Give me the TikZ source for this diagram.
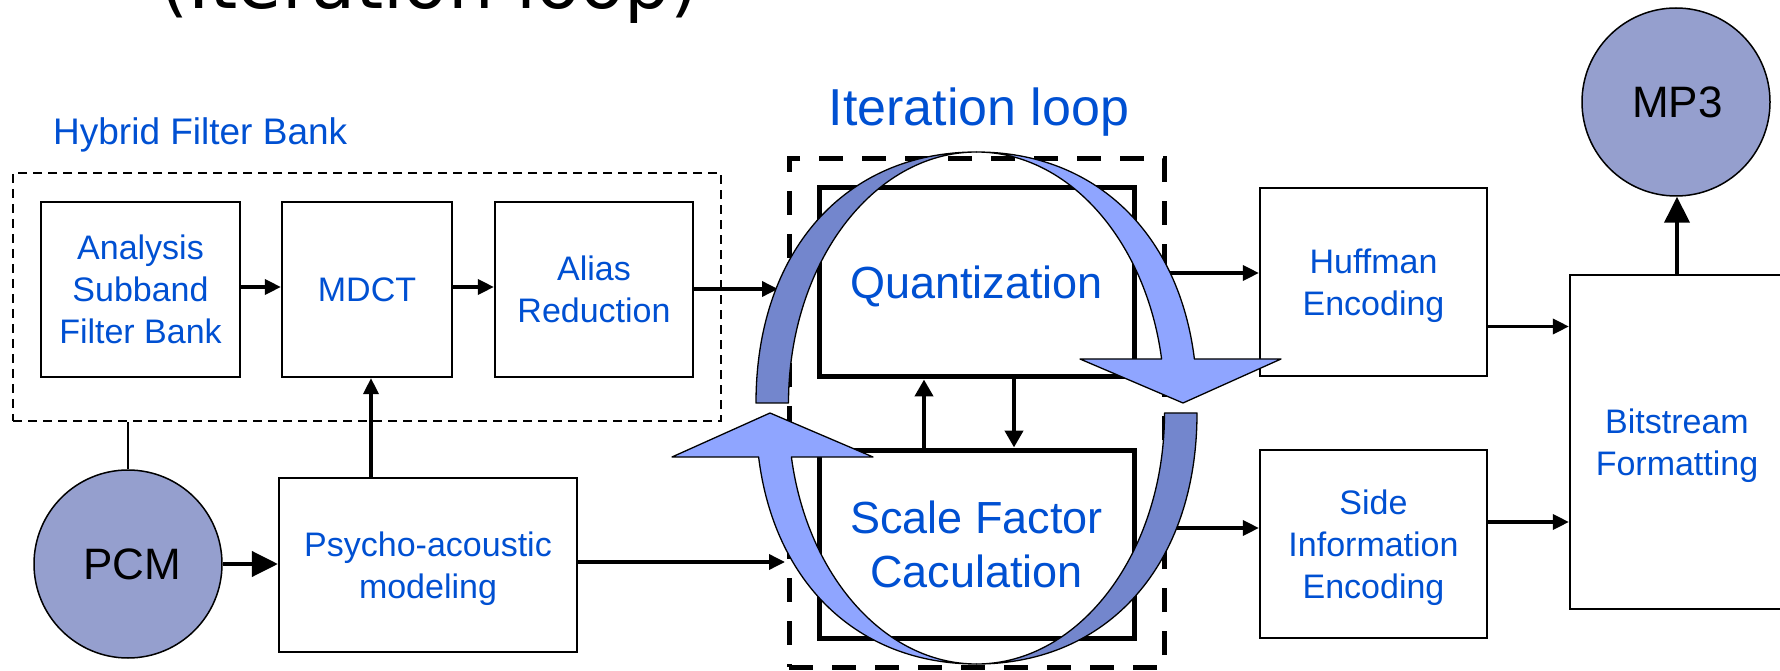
\documentclass[tikz,border=0pt]{standalone}
\usepackage{fontspec}
\setmainfont{Liberation Sans}
\newfontfamily\headfont{DejaVu Sans}
\usetikzlibrary{arrows.meta}

\definecolor{txtblue}{RGB}{0,80,210}
\definecolor{ringlight}{RGB}{143,165,255}
\definecolor{ringdark}{RGB}{115,134,205}
\definecolor{discfill}{RGB}{149,159,206}

% one half of the iteration ring: dark back part and light front part with its head
\newcommand\loophalf{%
  \path[ringpiece, fill=ringdark]
    (756,267) .. controls (756,417.6) and (844.2,518) .. (976.5,518)
    .. controls (872.7,518) and (788.5,405.6) .. (788.5,267) -- cycle;
  \path[ringpiece, fill=ringlight]
    (976.5,518) .. controls (1095.6,518) and (1178.9,436.6) .. (1194.4,311)
    -- (1281,311) -- (1183,267) -- (1080,311) -- (1161.6,311)
    .. controls (1146.1,428.5) and (1069.1,518) .. (976.5,518) -- cycle;
}

\begin{document}
\begin{tikzpicture}[x=1pt,y=1pt,
  blk/.style={draw=black, line width=2.2pt, fill=white, inner sep=0pt,
    align=center, text=txtblue, text depth=0pt,
    font=\fontsize{34}{42}\selectfont},
  bigblk/.style={draw=black, line width=5pt, fill=white, inner sep=0pt,
    align=center, text=txtblue, text depth=0pt,
    font=\fontsize{45}{54}\selectfont},
  disc/.style={circle, draw=black, line width=1.5pt, fill=discfill,
    inner sep=0pt, minimum size=188pt, text depth=0pt,
    font=\fontsize{44}{53}\selectfont},
  arr/.style={line width=3.5pt, -{Triangle[length=16pt,width=15pt]}},
  bigarr/.style={line width=4pt, -{Triangle[length=26pt,width=25pt]}},
  midarr/.style={line width=4.5pt, -{Triangle[length=17pt,width=18pt]}},
  ringpiece/.style={draw=black, line width=1.3pt, line join=round},
  label/.style={inner sep=0pt, text=txtblue}
]
\useasboundingbox (0,0) rectangle (1780,670);

% heading above the diagram
\node[anchor=base west, inner sep=0pt, font=\headfont\fontsize{72}{86}\selectfont]
  (title) at (160,661) {(Iteration loop)};

% group frames
\node[draw, line width=1.5pt, dash pattern=on 9pt off 6pt,
  minimum width=708pt, minimum height=248pt, inner sep=0pt] (hyb) at (367,373) {};
\node[draw, line width=5pt, dash pattern=on 24pt off 19pt,
  minimum width=375pt, minimum height=508pt, inner sep=0pt] (loopframe) at (976.5,257) {};

\node[label, anchor=base west, font=\fontsize{37}{44}\selectfont]
  (hyblabel) at (53,525) {Hybrid Filter Bank};
\node[label, anchor=base, font=\fontsize{52}{62}\selectfont]
  (looplabel) at (979,544) {Iteration loop};

% processing blocks
\node[blk, minimum width=199pt, minimum height=175pt] (ana) at (140.5,380.5) {Analysis\\Subband\\Filter Bank};
\node[blk, minimum width=170pt, minimum height=175pt] (mdct) at (367,380.5) {MDCT};
\node[blk, minimum width=198pt, minimum height=175pt] (alias) at (594,380.5) {Alias\\Reduction};
\node[blk, minimum width=298pt, minimum height=174pt] (psy) at (428,105) {Psycho-acoustic\\modeling};
\node[bigblk, minimum width=315pt, minimum height=189pt] (quant) at (976.5,387.5) {Quantization};
\node[bigblk, minimum width=315pt, minimum height=188pt] (scf) at (976.5,126) {Scale Factor\\Caculation};
\node[blk, minimum width=227pt, minimum height=188pt] (huff) at (1373.5,388) {Huffman\\Encoding};
\node[blk, minimum width=227pt, minimum height=188pt] (side) at (1373.5,126) {Side\\Information\\Encoding};
\node[blk, minimum width=214pt, minimum height=334pt] (bits) at (1677,228) {Bitstream\\Formatting};
\node[disc] (pcm) at (128,106) {\hspace*{8pt}PCM};
\node[disc] (mp3) at (1676,568) {\hspace*{3pt}MP3};

% connectors
\coordinate (loopin) at (778,381);
\coordinate (scfin) at (785,108);
\coordinate (qout) at (1163,397);
\coordinate (sout) at (1172,142);

\draw[arr] ([yshift=2.5pt]ana.east) -- ([yshift=2.5pt]mdct.west);
\draw[arr] ([yshift=2.5pt]mdct.east) -- ([yshift=2.5pt]alias.west);
\draw[arr] (alias.east |- loopin) -- (loopin);
\draw[line width=2pt] (pcm.north) -- (pcm.north |- hyb.south);
\draw[bigarr] (pcm.east) -- (pcm.east -| psy.west);
\draw[arr] ([xshift=4pt]mdct.south |- psy.north) -- ([xshift=4pt]mdct.south);
\draw[arr] (psy.east |- scfin) -- (scfin);
\draw[midarr] ([xshift=-52.5pt]scf.north) -- ([xshift=-52.5pt]quant.south);
\draw[midarr] ([xshift=37.5pt]quant.south) -- ([xshift=37.5pt]scf.north);
\draw[arr] (qout) -- (qout -| huff.west);
\draw[arr] (sout) -- (sout -| side.west);
\draw[arr] ([yshift=-44.5pt]huff.east) -- ([yshift=-44.5pt]huff.east -| bits.west);
\draw[arr] ([yshift=22pt]side.east) -- ([yshift=22pt]side.east -| bits.west);
\draw[bigarr] (bits.north) -- (bits.north |- mp3.south);

% iteration ring: two curved arrows
\loophalf
\begin{scope}[rotate around={180:(976.5,262)}]
  \loophalf
\end{scope}
\end{tikzpicture}
\end{document}
